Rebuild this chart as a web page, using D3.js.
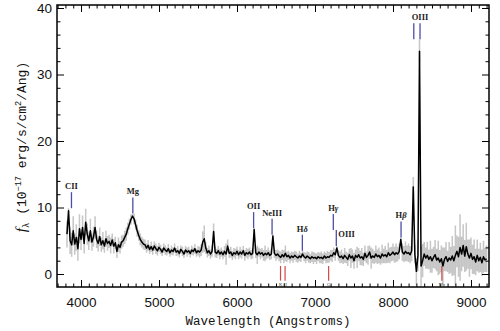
<!DOCTYPE html>
<html><head><meta charset="utf-8">
<script src="https://cdn.jsdelivr.net/npm/d3@7"></script>
<style>body{margin:0;background:#fff}svg{display:block}</style>
</head><body><svg id="c" width="500" height="331"></svg>
<script>
// ---- data ----
const waveStart = 3820, waveStep = 20;   // sampling grid of the spectrum (Angstroms)
const flux = [
  6.0, 9.5, 5.0, 4.4, 6.5, 4.5, 5.5, 3.8, 6.8, 5.2,
  7.0, 4.6, 7.8, 6.0, 5.0, 6.5, 4.8, 5.6, 7.0, 5.2,
  4.6, 5.6, 4.4, 5.0, 4.2, 5.3, 4.6, 4.9, 4.3, 5.1,
  4.2, 4.7, 3.4, 4.4, 4.0, 4.8, 5.0, 5.5, 6.0, 6.8,
  7.5, 8.2, 8.7, 8.3, 7.4, 6.5, 5.8, 5.2, 4.8, 4.5,
  4.4, 3.9, 4.3, 3.7, 4.1, 3.6, 4.2, 3.8, 3.5, 4.0,
  3.7, 3.3, 3.9, 3.6, 3.4, 3.8, 3.2, 3.6, 3.4, 3.9,
  3.3, 3.5, 3.1, 3.7, 3.4, 3.0, 3.6, 3.3, 3.5, 3.1,
  3.6, 3.4, 3.8, 3.2, 3.5, 3.3, 3.6, 4.8, 5.3, 3.9,
  3.2, 3.5, 3.0, 3.4, 6.4, 3.3, 3.1, 3.5, 3.0, 3.3,
  2.9, 3.4, 3.0, 4.2, 3.1, 3.3, 2.8, 3.2, 3.0, 3.4,
  2.9, 3.3, 3.0, 3.5, 2.8, 3.2, 3.0, 3.3, 2.9, 3.1,
  6.7, 3.2, 2.9, 3.3, 3.0, 3.2, 2.8, 3.1, 2.9, 3.2,
  2.8, 3.0, 5.7, 3.1, 2.8, 3.0, 2.7, 2.5, 2.9, 2.6,
  3.1, 2.6, 2.8, 2.4, 2.7, 2.5, 2.8, 2.6, 2.4, 2.7,
  2.5, 3.0, 2.6, 2.4, 2.7, 2.5, 2.3, 2.6, 2.4, 2.5,
  2.3, 2.6, 2.4, 2.5, 2.3, 2.7, 2.4, 2.6, 2.5, 2.8,
  2.7, 3.2, 2.9, 3.9, 2.8, 2.5, 2.7, 2.3, 2.8, 2.5,
  2.2, 2.9, 2.4, 2.7, 2.0, 2.8, 2.5, 2.9, 2.4, 2.6,
  2.2, 3.1, 2.5, 2.8, 3.3, 2.4, 2.7, 2.5, 3.0, 2.6,
  2.8, 2.4, 3.0, 2.7, 2.9, 2.6, 3.2, 2.8, 3.0, 3.3,
  2.9, 3.2, 3.0, 3.4, 5.2, 3.3, 3.0, 3.4, 3.1, 3.2,
  2.9, 3.5, 13.1, 3.0, 0.4, 2.8, 33.5, 1.2, 2.0, 3.0,
  2.4, 2.8, 2.2, 2.6, 2.0, 2.5, 2.9, 2.1, 2.4, 1.8,
  2.3, 1.2, 2.2, 2.6, 1.9, 2.4, 2.1, 2.7, 2.0, 2.8,
  3.4, 2.6, 4.0, 3.0, 4.3, 2.7, 4.1, 3.0, 2.4, 3.1,
  2.2, 2.6, 1.8, 2.8, 2.0, 2.5, 1.7, 2.6, 2.1, 2.3
];
const fluxErr = [
  2.0, 0.4, 2.0, 1.8, 2.2, 1.6, 2.0, 1.8, 2.2, 1.6,
  1.8, 1.5, 2.0, 1.6, 1.4, 1.8, 1.3, 1.5, 1.7, 1.3,
  1.2, 1.4, 1.1, 1.3, 1.0, 1.2, 1.1, 1.0, 1.2, 1.0,
  1.1, 0.9, 1.0, 1.1, 0.9, 1.0, 0.9, 1.0, 1.0, 0.9,
  0.8, 0.8, 0.3, 0.8, 0.8, 0.9, 0.8, 0.9, 0.8, 0.8,
  0.8, 0.7, 0.8, 0.7, 0.8, 0.7, 0.7, 0.8, 0.7, 0.7,
  0.7, 0.6, 0.7, 0.7, 0.6, 0.7, 0.6, 0.7, 0.6, 0.7,
  0.6, 0.7, 0.6, 0.6, 0.7, 0.6, 0.6, 0.7, 0.6, 0.6,
  0.7, 0.6, 0.7, 0.6, 0.7, 0.8, 0.9, 1.6, 2.0, 0.9,
  0.7, 0.8, 0.7, 0.8, 1.2, 0.8, 0.7, 0.7, 0.8, 0.7,
  0.7, 0.8, 1.6, 1.0, 0.7, 0.8, 0.7, 0.7, 0.8, 0.7,
  0.7, 0.8, 0.7, 0.7, 0.8, 0.7, 0.8, 0.7, 0.7, 0.8,
  0.2, 0.8, 1.4, 0.7, 0.8, 0.7, 0.8, 1.2, 0.7, 0.8,
  0.7, 0.8, 0.2, 0.7, 0.8, 0.7, 0.8, 0.9, 0.8, 1.0,
  1.2, 0.8, 0.7, 0.8, 0.7, 0.8, 0.7, 0.8, 0.7, 0.8,
  0.7, 0.5, 0.7, 0.8, 0.7, 0.8, 0.7, 0.8, 0.9, 0.7,
  0.8, 0.7, 0.8, 0.9, 0.8, 0.7, 0.8, 0.9, 0.8, 0.8,
  0.9, 0.8, 0.9, 0.3, 0.8, 0.9, 1.0, 0.8, 1.1, 0.9,
  1.0, 0.9, 1.5, 1.0, 1.2, 0.9, 1.6, 1.0, 1.1, 1.3,
  1.0, 1.2, 0.9, 1.4, 1.0, 1.6, 1.1, 1.0, 1.3, 1.1,
  1.2, 1.0, 1.4, 1.1, 1.3, 1.0, 1.5, 1.2, 1.1, 1.3,
  1.2, 1.4, 1.1, 1.2, 0.3, 1.3, 1.2, 1.5, 1.2, 1.4,
  1.3, 1.6, 1.5, 1.4, 2.0, 2.4, 1.8, 3.0, 2.5, 1.8,
  1.6, 2.0, 1.5, 2.4, 1.8, 1.6, 2.2, 1.7, 2.6, 1.8,
  2.0, 2.8, 1.8, 2.2, 1.6, 2.4, 2.0, 3.0, 2.2, 4.5,
  2.4, 3.0, 5.0, 2.6, 3.2, 2.4, 3.6, 2.2, 2.8, 2.4,
  2.2, 2.6, 2.0, 2.4, 1.8, 2.2, 2.0, 2.4, 1.8, 2.0
];
const redshift = 0.667;
const emissionNames = ["CII", "Mg", "OII", "NeIII", "Hδ", "Hγ", "OIII", "Hβ", "", "OIII"];
const emissionRest  = [2326, 2798, 3727, 3869, 4102, 4340, 4363, 4861, 4959, 5007];
const absorptionNames = ["K", "H", "G", "Mg"];
const absorptionRest  = [3934, 3969, 4304, 5175];
const xTicks = [4000, 5000, 6000, 7000, 8000, 9000];
const yTicks = [0, 10, 20, 30, 40];

// ---- layout ----
const L = 57, R = 489, T = 5, B = 287;
const x = d3.scaleLinear().domain([3692, 9231]).range([L, R]);
const y = d3.scaleLinear().domain([0, 40]).range([274, 8]);
const svg = d3.select("#c");

const spec = flux.map((f, i) => ({w: waveStart + i * waveStep, f, e: fluxErr[i]}));

svg.append("clipPath").attr("id", "clip").append("rect")
  .attr("x", L).attr("y", T).attr("width", R - L).attr("height", B - T);
const plot = svg.append("g").attr("clip-path", "url(#clip)");

// error spikes (grey)
plot.append("path")
  .attr("d", spec.map(d => `M${x(d.w).toFixed(2)},${y(d.f - d.e).toFixed(2)}V${y(d.f + d.e).toFixed(2)}`).join(""))
  .attr("stroke", "#c6c6c6").attr("stroke-width", 1.5).attr("fill", "none");

// flux
plot.append("path").datum(spec)
  .attr("d", d3.line().x(d => x(d.w)).y(d => y(d.f)))
  .attr("fill", "none").attr("stroke", "#000").attr("stroke-width", 1.5)
  .attr("stroke-linejoin", "round");

// ---- axes ----
function minorRange(a, b, s) { const r = []; for (let v = a; v <= b + 1e-9; v += s) r.push(+v.toFixed(4)); return r; }
const xMinor = minorRange(3700, 9200, 100).filter(v => v % 1000 !== 0);
const yMinor = minorRange(0, 40, 2).filter(v => v % 10 !== 0);

function styleAxis(g) { g.select(".domain").remove(); g.selectAll("line").attr("stroke", "#000").attr("stroke-width", 1); }

svg.append("g").attr("transform", `translate(0,${B})`)
  .call(d3.axisBottom(x).tickValues(xMinor).tickSize(-3.5).tickFormat("")).call(styleAxis);
svg.append("g").attr("transform", `translate(0,${B})`)
  .call(d3.axisBottom(x).tickValues(xTicks).tickSize(-7).tickPadding(10).tickFormat(d3.format("d"))).call(styleAxis);
svg.append("g").attr("transform", `translate(0,${T})`)
  .call(d3.axisTop(x).tickValues(xMinor).tickSize(-3.5).tickFormat("")).call(styleAxis);
svg.append("g").attr("transform", `translate(0,${T})`)
  .call(d3.axisTop(x).tickValues(xTicks).tickSize(-7).tickFormat("")).call(styleAxis);

svg.append("g").attr("transform", `translate(${L},0)`)
  .call(d3.axisLeft(y).tickValues(yMinor).tickSize(-3.5).tickFormat("")).call(styleAxis);
svg.append("g").attr("transform", `translate(${L},0)`)
  .call(d3.axisLeft(y).tickValues(yTicks).tickSize(-7).tickPadding(5).tickFormat(d3.format("d"))).call(styleAxis);
svg.append("g").attr("transform", `translate(${R},0)`)
  .call(d3.axisRight(y).tickValues(yMinor).tickSize(-3.5).tickFormat("")).call(styleAxis);
svg.append("g").attr("transform", `translate(${R},0)`)
  .call(d3.axisRight(y).tickValues(yTicks).tickSize(-7).tickFormat("")).call(styleAxis);

svg.selectAll(".tick text").attr("font-family", "'Liberation Sans', Arial, sans-serif")
  .attr("font-size", 13.5).attr("fill", "#111");

svg.append("rect").attr("x", L).attr("y", T).attr("width", R - L).attr("height", B - T)
  .attr("fill", "none").attr("stroke", "#000").attr("stroke-width", 1.5);

// ---- axis titles ----
svg.append("text").attr("x", 268).attr("y", 325).attr("text-anchor", "middle")
  .attr("font-family", "'Liberation Mono', 'DejaVu Sans Mono', monospace").attr("font-size", 12.5)
  .attr("fill", "#111").text("Wavelength (Angstroms)");

const yt = svg.append("text").attr("transform", "translate(26,147) rotate(-90)").attr("text-anchor", "middle")
  .attr("font-family", "'Liberation Mono', 'DejaVu Sans Mono', monospace").attr("font-size", 13).attr("fill", "#111");
yt.append("tspan").attr("font-family", "'Liberation Serif', serif").attr("font-style", "italic").attr("font-size", 15).text("f");
yt.append("tspan").attr("font-size", 9).attr("dy", 3).text("λ");
yt.append("tspan").attr("dy", -3).text(" (10");
yt.append("tspan").attr("font-size", 8.5).attr("dy", -5).text("−17");
yt.append("tspan").attr("dy", 5).text(" erg/s/cm");
yt.append("tspan").attr("font-size", 8.5).attr("dy", -5).text("2");
yt.append("tspan").attr("dy", 5).text("/Ang)");

// ---- emission line markers ----
const markLen = 16;
const lines = emissionRest.map((r, i) => ({name: emissionNames[i], w: r * (1 + redshift)}));
lines.forEach(l => {
  const near = spec.filter(d => Math.abs(d.w - l.w) <= 40);
  const peak = d3.max(near, d => d.f + d.e);
  l.bottom = y(peak);
  l.top = l.bottom - markLen;
  l.side = false;
});
// unlabeled markers share the vertical placement of the next labelled one
for (let i = lines.length - 2; i >= 0; i--) {
  if (!lines[i].name && lines[i + 1].w - lines[i].w < 120) { lines[i].bottom = Math.min(lines[i].bottom, lines[i + 1].bottom); lines[i].top = lines[i].bottom - markLen; lines[i + 1].bottom = lines[i].bottom; lines[i + 1].top = lines[i].top; }
}
// close labelled pairs: the bluer one is stacked on top, redder one gets side label
for (let i = 0; i < lines.length - 1; i++) {
  const a = lines[i], b = lines[i + 1];
  if (a.name && b.name && b.w - a.w < 60) {
    a.bottom = Math.min(a.bottom, b.top); a.top = a.bottom - markLen; b.side = true;
  }
}
const lineColor = "#4d4da8";
svg.append("g").selectAll("line").data(lines).join("line")
  .attr("x1", d => x(d.w)).attr("x2", d => x(d.w))
  .attr("y1", d => d.top).attr("y2", d => d.bottom)
  .attr("stroke", lineColor).attr("stroke-width", 1.3);

const labs = svg.append("g").selectAll("text").data(lines.filter(d => d.name)).join("text")
  .attr("x", d => d.side ? x(d.w) + 2 : x(d.w))
  .attr("y", d => d.side ? d.top + 7 : d.top - 3)
  .attr("text-anchor", d => d.side ? "start" : "middle")
  .attr("font-family", "'Liberation Serif', 'DejaVu Serif', serif").attr("font-size", 8.5)
  .attr("font-weight", "bold").attr("fill", "#222");
labs.each(function (d) {
  const t = d3.select(this);
  if (d.name.startsWith("H") && d.name.length === 2) {
    t.append("tspan").text("H");
    t.append("tspan").attr("font-style", "italic").text(d.name.slice(1));
  } else t.text(d.name);
});

// ---- absorption line markers ----
const abs = absorptionRest.map((r, i) => ({name: absorptionNames[i], w: r * (1 + redshift)}));
svg.append("g").selectAll("line").data(abs).join("line")
  .attr("x1", d => x(d.w)).attr("x2", d => x(d.w))
  .attr("y1", y(1.2)).attr("y2", y(-1.0))
  .attr("stroke", "#d24848").attr("stroke-width", 1.2);
svg.append("g").selectAll("text").data(abs).join("text")
  .attr("x", d => x(d.w)).attr("y", y(-1.0) + 5).attr("text-anchor", "middle")
  .attr("font-family", "'Liberation Serif', serif").attr("font-size", 4.5).attr("fill", "#333")
  .text(d => d.name);
</script></body></html>
